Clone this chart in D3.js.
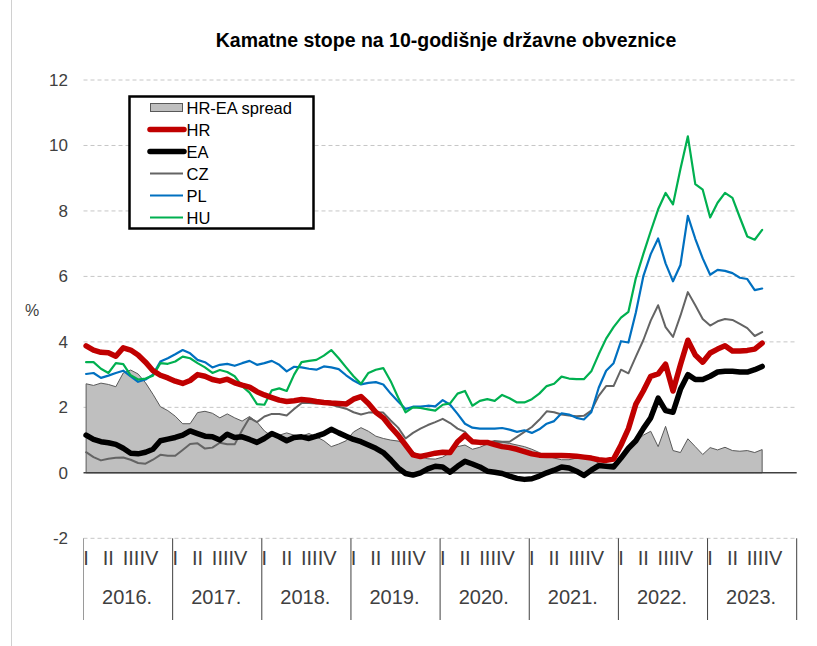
<!DOCTYPE html>
<html><head><meta charset="utf-8">
<script src="https://cdn.jsdelivr.net/npm/d3@7/dist/d3.min.js"></script>
<style>
body{margin:0;background:#fff;}
svg text{font-family:"Liberation Sans",Arial,sans-serif;}
</style></head>
<body><svg id="c" width="817" height="646"></svg>
<script>
const years = ["2016.","2017.","2018.","2019.","2020.","2021.","2022.","2023."];
const quarters = ["I","II","III","IV"];
const yTicks = [-2,0,2,4,6,8,10,12];
// monthly data Jan 2016 - Aug 2023
const spread = [2.72,2.67,2.74,2.7,2.63,3.05,3.14,3.02,2.75,2.4,2.02,1.9,
1.73,1.5,1.5,1.84,1.88,1.82,1.68,1.8,1.68,1.58,1.72,1.55,
1.28,1.12,1.15,1.22,1.15,1.12,1.2,1.1,0.98,0.8,0.88,0.98,
1.25,1.38,1.27,1.12,1.05,1.0,0.97,0.88,0.65,0.5,0.43,0.42,
0.48,0.62,0.8,0.85,0.72,0.78,0.88,0.92,0.94,0.9,0.85,0.8,
0.72,0.62,0.52,0.45,0.4,0.4,0.45,0.52,0.42,0.3,0.25,0.28,
0.45,0.75,0.95,1.15,1.27,0.8,1.42,0.68,0.62,1.04,0.8,0.56,
0.77,0.7,0.78,0.68,0.66,0.68,0.62,0.71];
const hr = [3.88,3.75,3.68,3.67,3.56,3.82,3.75,3.6,3.38,3.12,2.98,2.9,
2.8,2.73,2.82,3.0,2.95,2.85,2.8,2.86,2.75,2.68,2.62,2.48,
2.38,2.3,2.22,2.18,2.2,2.24,2.22,2.18,2.15,2.13,2.12,2.1,
2.25,2.33,2.12,1.85,1.68,1.4,1.15,0.85,0.55,0.5,0.55,0.6,
0.63,0.62,0.95,1.15,0.95,0.93,0.93,0.86,0.8,0.77,0.72,0.65,
0.58,0.54,0.53,0.53,0.53,0.52,0.51,0.48,0.45,0.4,0.38,0.42,
0.85,1.35,2.1,2.5,2.95,3.02,3.32,2.5,3.3,4.05,3.6,3.38,
3.66,3.78,3.88,3.72,3.72,3.74,3.78,3.96];
const ea = [1.15,1.02,0.95,0.92,0.87,0.75,0.6,0.58,0.63,0.72,0.98,1.03,
1.08,1.15,1.28,1.2,1.12,1.1,1.0,1.18,1.08,1.1,1.02,0.93,
1.05,1.2,1.1,0.98,1.08,1.1,1.05,1.12,1.2,1.33,1.22,1.12,
1.02,0.95,0.85,0.75,0.62,0.4,0.15,-0.02,-0.07,0.0,0.12,0.2,
0.18,0.02,0.2,0.35,0.27,0.18,0.05,0.02,-0.02,-0.1,-0.17,-0.2,
-0.18,-0.1,0.0,0.08,0.18,0.15,0.05,-0.08,0.08,0.22,0.2,0.18,
0.45,0.75,0.98,1.35,1.68,2.28,1.9,1.85,2.55,3.0,2.85,2.85,
2.95,3.08,3.1,3.1,3.08,3.08,3.15,3.25];
const cz = [0.63,0.48,0.38,0.43,0.46,0.47,0.4,0.3,0.28,0.4,0.55,0.52,
0.52,0.7,0.88,0.9,0.74,0.77,0.92,0.87,0.87,1.3,1.68,1.55,
1.72,1.8,1.8,1.75,1.95,2.13,2.13,2.12,2.13,2.08,2.02,1.96,
1.85,1.78,1.84,1.85,1.84,1.6,1.38,1.05,1.22,1.35,1.46,1.55,
1.65,1.52,1.35,1.25,0.95,0.92,0.92,0.97,0.95,0.95,1.1,1.25,
1.4,1.62,1.88,1.85,1.78,1.75,1.73,1.74,1.9,2.35,2.65,2.65,
3.15,3.04,3.55,4.05,4.65,5.12,4.45,4.15,4.8,5.52,5.12,4.7,
4.5,4.63,4.7,4.67,4.55,4.42,4.18,4.3];
const pl = [3.02,3.05,2.9,2.97,3.05,3.12,2.95,2.78,2.85,3.0,3.4,3.5,
3.62,3.75,3.65,3.45,3.38,3.22,3.3,3.33,3.27,3.35,3.42,3.3,
3.35,3.42,3.3,3.1,3.24,3.22,3.18,3.15,3.25,3.22,3.17,2.98,
2.82,2.7,2.75,2.77,2.7,2.42,2.18,1.95,2.02,2.02,2.05,2.03,
2.22,2.08,1.8,1.5,1.38,1.35,1.35,1.35,1.37,1.32,1.25,1.3,
1.22,1.33,1.5,1.58,1.82,1.78,1.68,1.63,1.85,2.6,3.12,3.35,
4.02,3.98,4.9,6.0,6.68,7.16,6.4,5.85,6.35,7.85,7.15,6.55,
6.05,6.2,6.17,6.1,5.96,5.92,5.58,5.63];
const hu = [3.38,3.38,3.18,3.05,3.35,3.32,2.98,2.85,2.88,2.97,3.35,3.33,
3.4,3.55,3.5,3.35,3.22,3.05,3.14,3.08,2.95,2.65,2.45,2.1,
2.08,2.52,2.58,2.5,3.0,3.38,3.42,3.45,3.58,3.75,3.5,3.22,
2.95,2.72,3.05,3.15,3.2,2.8,2.3,1.85,2.0,1.98,1.94,1.9,
2.08,2.12,2.42,2.5,2.05,2.2,2.25,2.2,2.38,2.28,2.15,2.15,
2.25,2.42,2.65,2.72,2.94,2.88,2.86,2.86,3.1,3.62,4.1,4.45,
4.74,4.92,5.95,6.68,7.38,8.05,8.55,8.2,9.28,10.28,8.82,8.65,
7.8,8.25,8.55,8.4,7.8,7.22,7.12,7.42];

const svg = d3.select("#c");
const x = d3.scaleLinear().domain([0, 96]).range([83.5, 796.7]);
const y = d3.scaleLinear().domain([-2, 12]).range([538.3, 80]);
const xi = i => x(i + 0.35);

// outer frame line
svg.append("line").attr("x1",11.5).attr("x2",11.5).attr("y1",0).attr("y2",646)
  .attr("stroke","#d0d0d0").attr("stroke-width",1);

// title
svg.append("text").attr("x",446).attr("y",47).attr("text-anchor","middle")
  .attr("font-size",19.5).attr("font-weight","bold").attr("fill","#000")
  .text("Kamatne stope na 10-godišnje državne obveznice");

// gridlines
svg.append("g").selectAll("line").data(yTicks.filter(v=>v!==0)).join("line")
  .attr("x1",x(0)).attr("x2",x(96)).attr("y1",d=>y(d)).attr("y2",d=>y(d))
  .attr("stroke","#c6c6c6").attr("stroke-width",1).attr("stroke-dasharray","4,3");

// y axis labels
const ya = svg.append("g").attr("transform",`translate(${x(0)},0)`)
  .call(d3.axisLeft(y).tickValues(yTicks).tickSize(0).tickPadding(15.5).tickFormat(d=>String(d)));
ya.select(".domain").remove();
ya.selectAll("text").attr("font-size",17).attr("fill","#404040")
  .style("font-family","'Liberation Sans',Arial,sans-serif");

svg.append("text").attr("x",32).attr("y",316).attr("text-anchor","middle")
  .attr("font-size",16).attr("fill","#404040").text("%");

// spread area
const area = d3.area().x((d,i)=>xi(i)).y0(y(0)).y1(d=>y(d));
svg.append("path").datum(spread).attr("d", area)
  .attr("fill","#bfbfbf").attr("stroke","#595959").attr("stroke-width",1);

// zero line
svg.append("line").attr("x1",x(0)).attr("x2",x(96)).attr("y1",y(0)).attr("y2",y(0))
  .attr("stroke","#404040").attr("stroke-width",1.5);

const line = d3.line().x((d,i)=>xi(i)).y(d=>y(d));
const series = [
  {name:"CZ", data:cz, color:"#646464", w:2},
  {name:"PL", data:pl, color:"#0070c0", w:2.2},
  {name:"HU", data:hu, color:"#00b050", w:2.2},
  {name:"EA", data:ea, color:"#000000", w:5.5},
  {name:"HR", data:hr, color:"#c00000", w:5.5}
];
series.forEach(s=>{
  svg.append("path").datum(s.data).attr("d",line).attr("fill","none")
    .attr("stroke",s.color).attr("stroke-width",s.w)
    .attr("stroke-linejoin","round").attr("stroke-linecap","round");
});

// x axis category labels
const yearIdx = d3.range(years.length);
svg.append("g").selectAll("line").data(d3.range(years.length+1)).join("line")
  .attr("x1",d=>x(d*12)).attr("x2",d=>x(d*12)).attr("y1",y(-2)).attr("y2",620)
  .attr("stroke",d=>d===0?"#9a9a9a":"#404040").attr("stroke-width",1);
const qPos = [0.35, 3.35, 6.4, 8.8];
const qg = svg.append("g");
yearIdx.forEach(yi=>{
  quarters.forEach((q,qi)=>{
    qg.append("text").attr("x", x(yi*12 + qPos[qi])).attr("y",565)
      .attr("text-anchor","middle").attr("font-size",20).attr("fill","#404040").text(q);
  });
});
svg.append("g").selectAll("text").data(years).join("text")
  .attr("x",(d,i)=>x(i*12+6)-1).attr("y",604).attr("text-anchor","middle")
  .attr("font-size",20).attr("fill","#404040").text(d=>d);

// legend
const lg = svg.append("g");
lg.append("rect").attr("x",129.5).attr("y",96.5).attr("width",184).attr("height",132)
  .attr("fill","#fff").attr("stroke","#000").attr("stroke-width",2.5);
const legItems = [
  {name:"HR-EA spread", type:"area"},
  {name:"HR", color:"#c00000", w:5.5},
  {name:"EA", color:"#000000", w:5.5},
  {name:"CZ", color:"#646464", w:2},
  {name:"PL", color:"#0070c0", w:2.2},
  {name:"HU", color:"#00b050", w:2.2}
];
legItems.forEach((it,i)=>{
  const cy = 107.5 + i*22;
  if(it.type==="area"){
    lg.append("rect").attr("x",150.5).attr("y",cy-4).attr("width",32).attr("height",8)
      .attr("fill","#bfbfbf").attr("stroke","#595959").attr("stroke-width",1);
  } else {
    lg.append("line").attr("x1",150).attr("x2",it.w>3?184:183).attr("y1",cy).attr("y2",cy)
      .attr("stroke",it.color).attr("stroke-width",it.w).attr("stroke-linecap",it.w>3?"round":"butt");
  }
  lg.append("text").attr("x",186.5).attr("y",cy+6).attr("font-size",16.5).attr("fill","#000").text(it.name);
});
</script></body></html>
